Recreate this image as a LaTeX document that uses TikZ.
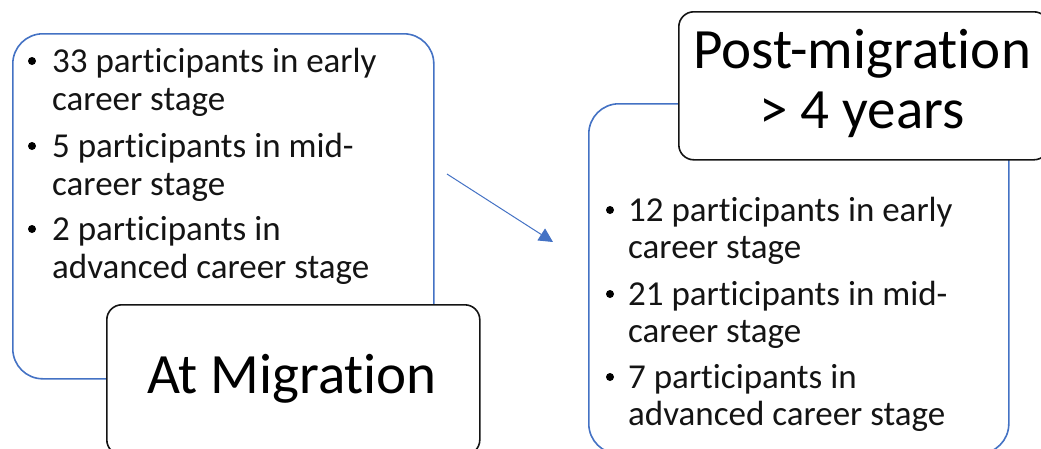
\documentclass[tikz,border=0pt]{standalone}
\usepackage{fontspec}
\setmainfont{Carlito}[Ligatures=NoCommon]
\usetikzlibrary{arrows.meta}
\definecolor{frameblue}{HTML}{4472C4}
\definecolor{inkgray}{HTML}{141414}
\begin{document}
\begin{tikzpicture}[x=1pt,y=-1pt,
  groupbox/.style={draw=frameblue,line width=1.6pt,rounded corners=30pt,
    anchor=north west,inner sep=0pt,fill=white},
  titlebox/.style={draw=inkgray,line width=1.6pt,rounded corners=15pt,
    anchor=north west,inner sep=0pt,fill=white},
  itemtext/.style={anchor=base west,inner sep=0pt,align=left,text=inkgray,
    font=\fontsize{35}{37.5}\selectfont},
  titletext/.style={anchor=base,inner sep=0pt,align=center,text=black,
    font=\fontsize{57}{60}\selectfont},
  dot/.style={circle,fill=black,inner sep=0pt,minimum size=8pt},
  flow/.style={draw=frameblue,line width=1pt,-{Triangle[length=14pt,width=14pt]}}]
\useasboundingbox (0,0) rectangle (1041,448);

% left group: at migration (text nodes anchored at the baseline of their last line)
\node[groupbox,minimum width=421pt,minimum height=345pt] (leftgroup) at (12,33) {};
\node[dot] (lb1) at (32,61) {};
\node[itemtext] (li1) at (52,110) {33 participants in early\\career stage};
\node[dot] (lb2) at (32,146) {};
\node[itemtext] (li2) at (52,195) {5 participants in mid-\\career stage};
\node[dot] (lb3) at (32,229) {};
\node[itemtext] (li3) at (52,278) {2 participants in\\advanced career stage};
\node[titlebox,minimum width=373pt,minimum height=150pt] (lefttitle) at (106,304) {};
\node[titletext] (lefttitletext) at (292,393) {At Migration};

% right group: post-migration
\node[groupbox,minimum width=420pt,minimum height=350pt] (rightgroup) at (588,103) {};
\node[dot] (rb1) at (610,210) {};
\node[itemtext] (ri1) at (628,258.5) {12 participants in early\\career stage};
\node[dot] (rb2) at (610,294) {};
\node[itemtext] (ri2) at (628,342.5) {21 participants in mid-\\career stage};
\node[dot] (rb3) at (610,377) {};
\node[itemtext] (ri3) at (628,425.5) {7 participants in\\advanced career stage};
\node[titlebox,minimum width=370pt,minimum height=148pt] (righttitle) at (678,11) {};
\node[titletext] (righttitletext) at (862,128) {Post-migration\\> 4 years};

% transition arrow
\coordinate (flowstart) at (447,174);
\coordinate (flowend) at (553,242);
\draw[flow] (flowstart) -- (flowend);
\end{tikzpicture}
\end{document}
